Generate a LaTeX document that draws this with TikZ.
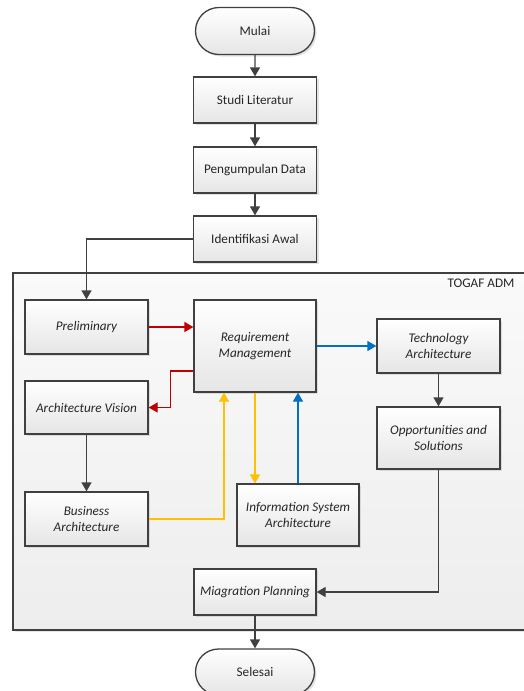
\documentclass[tikz,border=0pt]{standalone}
\usepackage{fontspec}
\setmainfont{Carlito}
\usetikzlibrary{arrows.meta,shadows,shapes.misc}
\definecolor{linegray}{HTML}{404040}
\definecolor{textgray}{HTML}{262626}
\definecolor{admred}{HTML}{C00000}
\definecolor{admblue}{HTML}{0070C0}
\definecolor{admyellow}{HTML}{FFC000}
\tikzset{
  base/.style={draw=linegray, line width=1.3pt, top color=white, bottom color=black!10,
    text=textgray, align=center, font=\fontsize{13.2}{16}\selectfont,
    inner sep=2pt, minimum width=123pt,
    drop shadow={opacity=0.22, shadow xshift=2pt, shadow yshift=-2pt}},
  stepbox/.style={base, rectangle},
  phase/.style={base, rectangle, font=\fontsize{13.2}{16}\selectfont\itshape},
  term/.style={base, rounded rectangle},
  tip/.style={-{Triangle[length=9pt,width=10pt]}},
  flow/.style={draw=linegray, line width=1.3pt, tip},
  redflow/.style={flow, draw=admred},
  blueflow/.style={flow, draw=admblue},
  yellowflow/.style={flow, draw=admyellow},
}
\begin{document}
\begin{tikzpicture}[x=1pt,y=-1pt]
\useasboundingbox (0,0) rectangle (523,691);

% TOGAF ADM frame
\path[draw=linegray, line width=1.3pt, top color=black!2, bottom color=black!7,
  drop shadow={opacity=0.2, shadow xshift=2pt, shadow yshift=-2pt}]
  (13,273) rectangle (535,630);
\node[anchor=east, text=textgray, font=\fontsize{13.2}{15}\selectfont] (admlabel) at (518,283) {TOGAF ADM};

% preparation steps
\node[term, minimum height=47pt] (mulai) at (255,31) {Mulai};
\node[stepbox, minimum height=46pt] (studi) at (255,100) {Studi Literatur};
\node[stepbox, minimum height=46pt] (data) at (255,170) {Pengumpulan Data};
\node[stepbox, minimum height=46pt] (ident) at (255,239) {Identifikasi Awal};

% ADM phases
\node[phase, minimum height=54pt] (prelim) at (86.5,327) {Preliminary};
\node[phase, minimum width=122pt, minimum height=92pt] (req) at (255,346) {Requirement\\Management};
\node[phase, minimum height=54pt] (tech) at (438.5,346) {Technology\\Architecture};
\node[phase, minimum height=53pt] (vision) at (86.5,407.5) {Architecture Vision};
\node[phase, minimum height=62pt] (opp) at (438.5,438) {Opportunities and\\Solutions};
\node[phase, minimum height=62pt, minimum width=122pt] (isa) at (298,515) {Information System\\Architecture};
\node[phase, minimum height=54pt] (business) at (86.5,519) {Business\\Architecture};
\node[phase, minimum height=46pt, minimum width=122pt] (migr) at (255,592) {Miagration Planning};
\node[term, minimum height=46pt] (selesai) at (255,672) {Selesai};

% connectors
\draw[flow] (mulai) -- (studi);
\draw[flow] (studi) -- (data);
\draw[flow] (data) -- (ident);
\draw[flow] (ident.west) -| (prelim.north);
\draw[redflow] (prelim.east) -- (prelim.east -| req.west);
\draw[redflow] ([yshift=-25pt]req.west) -- ++(-23,0) |- (vision.east);
\draw[blueflow] (req.east) -- (tech.west);
\draw[flow] (tech) -- (opp);
\draw[flow] (vision) -- (business);
\draw[yellowflow] (business.east) -| ([xshift=-31pt]req.south);
\draw[yellowflow] (req.south) -- (req.south |- isa.north);
\draw[blueflow] (isa.north) -- (isa.north |- req.south);
\draw[flow] (opp.south) |- (migr.east);
\draw[flow] (migr) -- (selesai);
\end{tikzpicture}
\end{document}
